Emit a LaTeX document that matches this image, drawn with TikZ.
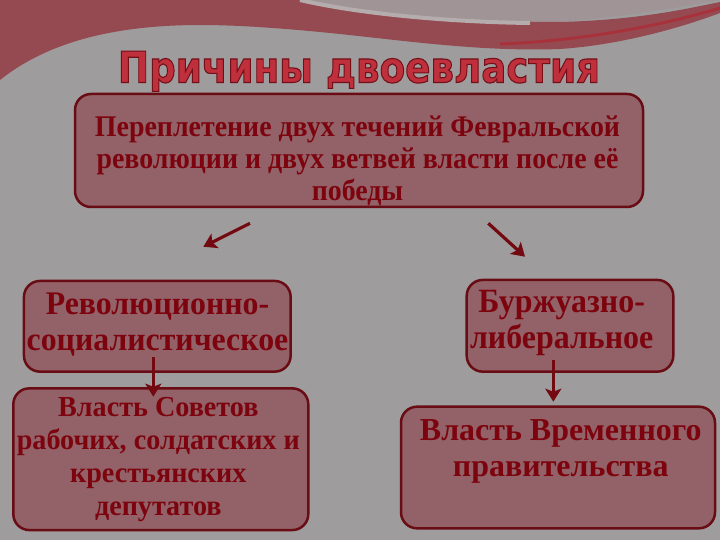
\documentclass[tikz,border=0pt]{standalone}
\usepackage{fontspec}
\setmainfont{Liberation Serif}
\newfontfamily\titlefont{DejaVu Sans}
\usepackage{graphicx}
\usetikzlibrary{arrows.meta}
\definecolor{bggray}{RGB}{158,156,157}
\definecolor{bandred}{RGB}{148,74,80}
\definecolor{topgray}{RGB}{160,148,150}
\definecolor{streak}{RGB}{180,172,173}
\definecolor{brightred}{RGB}{168,50,60}
\definecolor{boxfill}{RGB}{146,98,104}
\definecolor{boxline}{RGB}{105,12,20}
\definecolor{txtred}{RGB}{125,4,14}
\definecolor{titlered}{RGB}{192,48,60}
\definecolor{arrowred}{RGB}{115,10,18}
\newcommand{\fitlines}[4]{\resizebox{#1}{\height}{\fontsize{#2}{#3}\selectfont\begin{tabular}[t]{@{}c@{}}#4\end{tabular}}}
\tikzset{
  box/.style={draw=boxline, line width=2.5pt, fill=boxfill, rounded corners=16pt, inner sep=0pt},
  txt/.style={inner sep=0pt, text=txtred, anchor=base, font=\bfseries},
  arr/.style={draw=arrowred, line width=3.2pt, -{Stealth[length=13pt,width=16pt,inset=3pt]}}
}
\begin{document}
\begin{tikzpicture}[x=1pt,y=1pt]
\useasboundingbox (0,0) rectangle (720,-540);
% background
\fill[bggray] (0,0) rectangle (720,-540);
\fill[topgray] (300,0) .. controls (400,-25) and (500,-25) .. (560,-22) .. controls (640,-15) and (690,-5) .. (720,0) -- cycle;
\fill[bandred] (0,0) -- (300,0) .. controls (360,-14) and (470,-22) .. (560,-22)
  .. controls (640,-20) and (690,-8) .. (720,-2) -- (720,-13)
  .. controls (680,-28) and (620,-45) .. (560,-49)
  .. controls (480,-52) and (400,-40) .. (330,-33)
  .. controls (270,-27) and (230,-25) .. (200,-25)
  .. controls (120,-25) and (50,-40) .. (0,-80) -- cycle;
\draw[streak, line width=4pt] (300,0) .. controls (360,-14) and (450,-22) .. (530,-23);
\draw[brightred, line width=3pt] (500,-44) .. controls (600,-40) and (680,-20) .. (720,-8);
% title
\node[inner sep=0pt, anchor=base] (title) at (359,-82.5)
  {\resizebox{482pt}{\height}{\fontsize{43}{43}\titlefont\bfseries\color{titlered}\special{pdf:code 2 Tr 1.1 w 0.45 0.06 0.09 RG}Причины двоевластия\special{pdf:code 0 Tr}}};
% boxes
\node[box, minimum width=568pt, minimum height=113pt] (top) at (359,-150.5) {};
\node[box, minimum width=266.7pt, minimum height=90.7pt] (lb1) at (157.3,-326.3) {};
\node[box, minimum width=295pt, minimum height=141.7pt] (lb2) at (160.8,-459.2) {};
\node[box, minimum width=206.6pt, minimum height=91.7pt] (rb1) at (570,-325.8) {};
\node[box, minimum width=314pt, minimum height=121.6pt] (rb2) at (558,-467.5) {};
% texts
\node[txt] (ttop) at (357.5,-136.7) {\fitlines{525pt}{30}{31.7}{Переплетение двух течений Февральской\\революции и двух ветвей власти после её\\победы}};
\node[txt] (tlb1) at (157.5,-314) {\fitlines{261.6pt}{33}{36}{Революционно-\\социалистическое}};
\node[txt] (tlb2) at (158.3,-416.7) {\fitlines{283pt}{29}{32.8}{Власть Советов\\рабочих, солдатских и\\крестьянских\\депутатов}};
\node[txt] (trb1) at (561.7,-312) {\fitlines{183.3pt}{34}{36}{Буржуазно-\\либеральное}};
\node[txt] (trb2) at (560.8,-440) {\fitlines{281.7pt}{32}{36.7}{Власть Временного\\правительства}};
% arrows
\coordinate (a1s) at (250,-223.3);
\coordinate (a1e) at (203.3,-246.7);
\coordinate (a2s) at (488.3,-223.3);
\coordinate (a2e) at (525,-256.7);
\coordinate (a3s) at (153.3,-356.7);
\coordinate (a3e) at (153.3,-396.7);
\coordinate (a4s) at (553.3,-360);
\coordinate (a4e) at (553.3,-401.7);
\draw[arr] (a1s) -- (a1e);
\draw[arr] (a2s) -- (a2e);
\draw[arr] (a3s) -- (a3e);
\draw[arr] (a4s) -- (a4e);
\end{tikzpicture}
\end{document}
